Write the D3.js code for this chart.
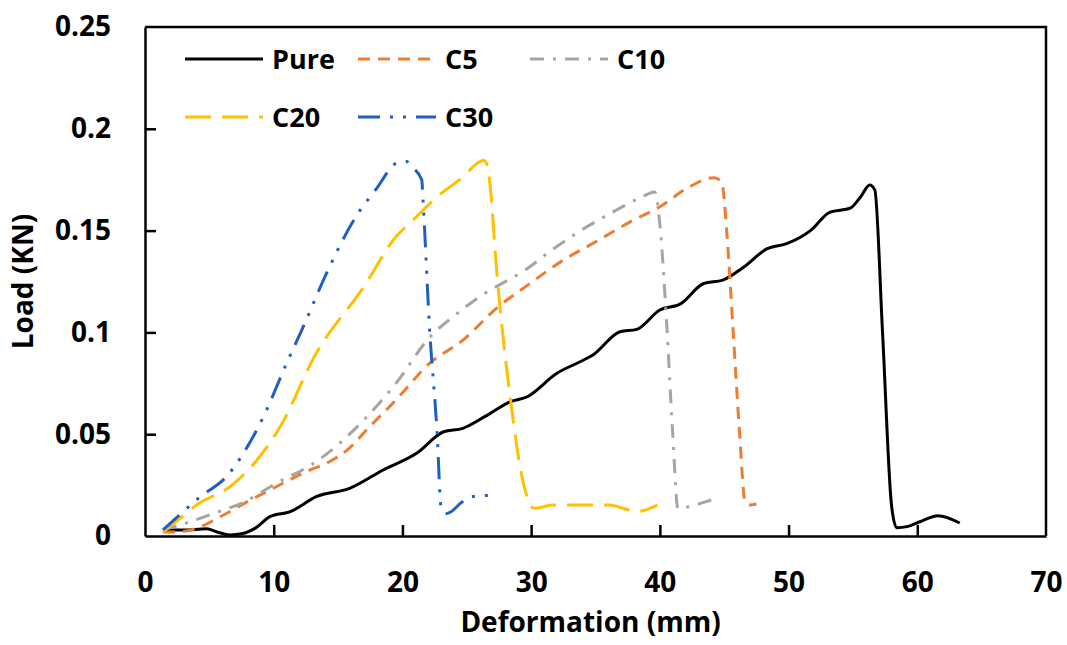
<!DOCTYPE html>
<html>
<head>
<meta charset="utf-8">
<script src="https://cdn.jsdelivr.net/npm/d3@7"></script>
<style>
  body { margin: 0; background: #fff; }
  text { font-family: "Open Sans", "Noto Sans", sans-serif; font-weight: bold; fill: #000; }
</style>
</head>
<body>
<div id="chart"></div>
<script>
// Data
let seriesNames = ["Pure", "C5", "C10", "C20", "C30"];

let pureDef  = [1.4, 3.0, 4.8, 5.6, 6.6, 7.6, 8.6, 9.7, 11.3, 13.3, 15.9, 18.5, 21.1, 23.2, 24.7, 26.5, 28.4, 29.7, 32.0, 33.8, 34.8, 36.9, 38.2, 40.0, 41.6, 43.4, 44.9, 46.5, 48.3, 49.9, 51.7, 53.2, 54.8, 55.6, 56.3, 56.7, 57.3, 58.0, 58.4, 59.2, 60.2, 61.6, 63.3];
let pureLoad = [0.003, 0.003, 0.0035, 0.002, 0.0005, 0.0012, 0.004, 0.0095, 0.012, 0.0193, 0.0234, 0.0324, 0.0406, 0.0512, 0.0529, 0.059, 0.066, 0.0684, 0.0799, 0.0856, 0.0889, 0.1003, 0.1015, 0.111, 0.114, 0.124, 0.1257, 0.132, 0.141, 0.1437, 0.150, 0.159, 0.161, 0.1666, 0.1724, 0.170, 0.100, 0.015, 0.0041, 0.0046, 0.007, 0.010, 0.0064];

let c5Def  = [1.4, 2.5, 4.0, 6.1, 8.0, 10.2, 12.8, 14.1, 15.7, 17.5, 19.5, 22.1, 24.7, 27.3, 29.9, 32.5, 34.8, 37.9, 40.0, 42.3, 44.2, 44.8, 45.2, 45.7, 46.2, 46.6, 47.0, 47.5];
let c5Load = [0.002, 0.002, 0.0038, 0.0103, 0.017, 0.0242, 0.0324, 0.0357, 0.0422, 0.054, 0.0668, 0.0848, 0.0962, 0.1118, 0.124, 0.1355, 0.1437, 0.155, 0.1617, 0.1715, 0.176, 0.174, 0.149, 0.100, 0.050, 0.0177, 0.0152, 0.0157];

let c10Def  = [1.4, 3.0, 5.3, 7.8, 10.2, 13.3, 15.2, 17.0, 19.5, 22.1, 24.0, 26.0, 29.9, 31.5, 33.5, 36.6, 38.6, 39.6, 40.0, 40.5, 41.0, 41.4, 42.3, 43.4, 44.4];
let c10Load = [0.003, 0.006, 0.011, 0.017, 0.0259, 0.0365, 0.046, 0.057, 0.075, 0.0975, 0.108, 0.1175, 0.1322, 0.140, 0.1486, 0.160, 0.1665, 0.169, 0.153, 0.1077, 0.050, 0.0136, 0.0144, 0.0165, 0.0185];

let c20Def  = [1.4, 2.8, 4.0, 6.6, 8.7, 10.5, 13.3, 17.0, 19.5, 20.8, 22.7, 24.7, 25.8, 26.3, 26.6, 26.8, 27.3, 28.4, 29.4, 30.2, 31.7, 36.1, 37.2, 38.2, 39.8];
let c20Load = [0.002, 0.009, 0.0152, 0.0242, 0.0373, 0.0537, 0.0897, 0.1224, 0.147, 0.155, 0.1666, 0.1764, 0.183, 0.1846, 0.182, 0.173, 0.132, 0.0668, 0.0259, 0.0136, 0.0152, 0.0152, 0.0135, 0.012, 0.0152];

let c30Def  = [1.4, 2.8, 4.3, 6.3, 9.2, 11.0, 12.3, 14.1, 16.4, 18.0, 19.5, 20.3, 20.8, 21.5, 21.6, 22.1, 22.7, 23.0, 23.4, 23.8, 24.5, 25.3, 27.1];
let c30Load = [0.003, 0.011, 0.0193, 0.029, 0.0586, 0.0848, 0.1028, 0.129, 0.157, 0.1707, 0.183, 0.184, 0.181, 0.175, 0.165, 0.1028, 0.050, 0.0144, 0.011, 0.012, 0.016, 0.0193, 0.020];

let xTicks = [0, 10, 20, 30, 40, 50, 60, 70];
let yTicks = [0, 0.05, 0.1, 0.15, 0.2, 0.25];

// Styles for each series
let colors = ["#000000", "#ED7D31", "#A5A5A5", "#FFC000", "#1F5FBF"];
let dashes = ["none", "12,8", "14,9,3,9", "26,11", "22,10,3,10,3,10"];

let allDef = [pureDef, c5Def, c10Def, c20Def, c30Def];
let allLoad = [pureLoad, c5Load, c10Load, c20Load, c30Load];

let margin = {top: 27, right: 21, bottom: 109, left: 145},
    width = 1067 - margin.left - margin.right,
    height = 645 - margin.top - margin.bottom;

let x = d3.scaleLinear().domain([0, 70]).range([0, width]);
let y = d3.scaleLinear().domain([0, 0.25]).range([height, 0]);

let svg = d3.select("#chart").append("svg")
    .attr("width", 1067)
    .attr("height", 645)
    .append("g")
    .attr("transform", "translate(" + margin.left + "," + margin.top + ")");

// Lines
let line = d3.line()
    .x(function(d) { return x(d[0]); })
    .y(function(d) { return y(d[1]); })
    .curve(d3.curveMonotoneX);

seriesNames.forEach(function(name, i) {
    let pts = allDef[i].map(function(v, j) { return [v, allLoad[i][j]]; });
    svg.append("path")
        .datum(pts)
        .attr("fill", "none")
        .attr("stroke", colors[i])
        .attr("stroke-width", 3)
        .attr("stroke-dasharray", dashes[i])
        .attr("d", line);
});

// Axes with inward ticks
let xAxis = svg.append("g")
    .attr("transform", "translate(0," + height + ")")
    .call(d3.axisBottom(x).tickValues(xTicks).tickSizeInner(-11).tickSizeOuter(0).tickPadding(36));
let yAxis = svg.append("g")
    .call(d3.axisLeft(y).tickValues(yTicks).tickSizeInner(-11).tickSizeOuter(0).tickPadding(34)
        .tickFormat(function(d) { return String(+d.toFixed(2)); }));

[xAxis, yAxis].forEach(function(a) {
    a.selectAll("path, line").attr("stroke", "#000").attr("stroke-width", 2.5);
    a.selectAll("text").style("font-size", "28px").attr("fill", "#000");
});
xAxis.selectAll(".tick").filter(function(d) { return d === 0 || d === 70; }).select("line").remove();
yAxis.selectAll(".tick").filter(function(d) { return d === 0 || d === 0.25; }).select("line").remove();

// Top and right border of the box
svg.append("path")
    .attr("d", "M0,0H" + width + "V" + height)
    .attr("fill", "none")
    .attr("stroke", "#000")
    .attr("stroke-width", 2.5);

// Axis titles
svg.append("text")
    .attr("x", width / 2 - 5)
    .attr("y", height + 96)
    .attr("text-anchor", "middle")
    .style("font-size", "28px")
    .text("Deformation (mm)");

svg.append("text")
    .attr("transform", "translate(" + (-margin.left + 33) + "," + (height / 2) + ") rotate(-90)")
    .attr("text-anchor", "middle")
    .style("font-size", "28px")
    .text("Load (KN)");

// Legend (two rows)
let legendPos = [[40, 32], [213, 32], [385, 32], [40, 90], [213, 90]];
let legend = svg.selectAll(".legend")
    .data(seriesNames)
    .enter().append("g")
    .attr("class", "legend")
    .attr("transform", function(d, i) { return "translate(" + legendPos[i][0] + "," + legendPos[i][1] + ")"; });

legend.append("line")
    .attr("x1", 0).attr("x2", 78)
    .attr("stroke", function(d, i) { return colors[i]; })
    .attr("stroke-width", 3)
    .attr("stroke-dasharray", function(d, i) { return dashes[i]; });

legend.append("text")
    .attr("x", 87)
    .attr("dy", "0.36em")
    .style("font-size", "27px")
    .text(function(d) { return d; });
</script>
</body>
</html>
